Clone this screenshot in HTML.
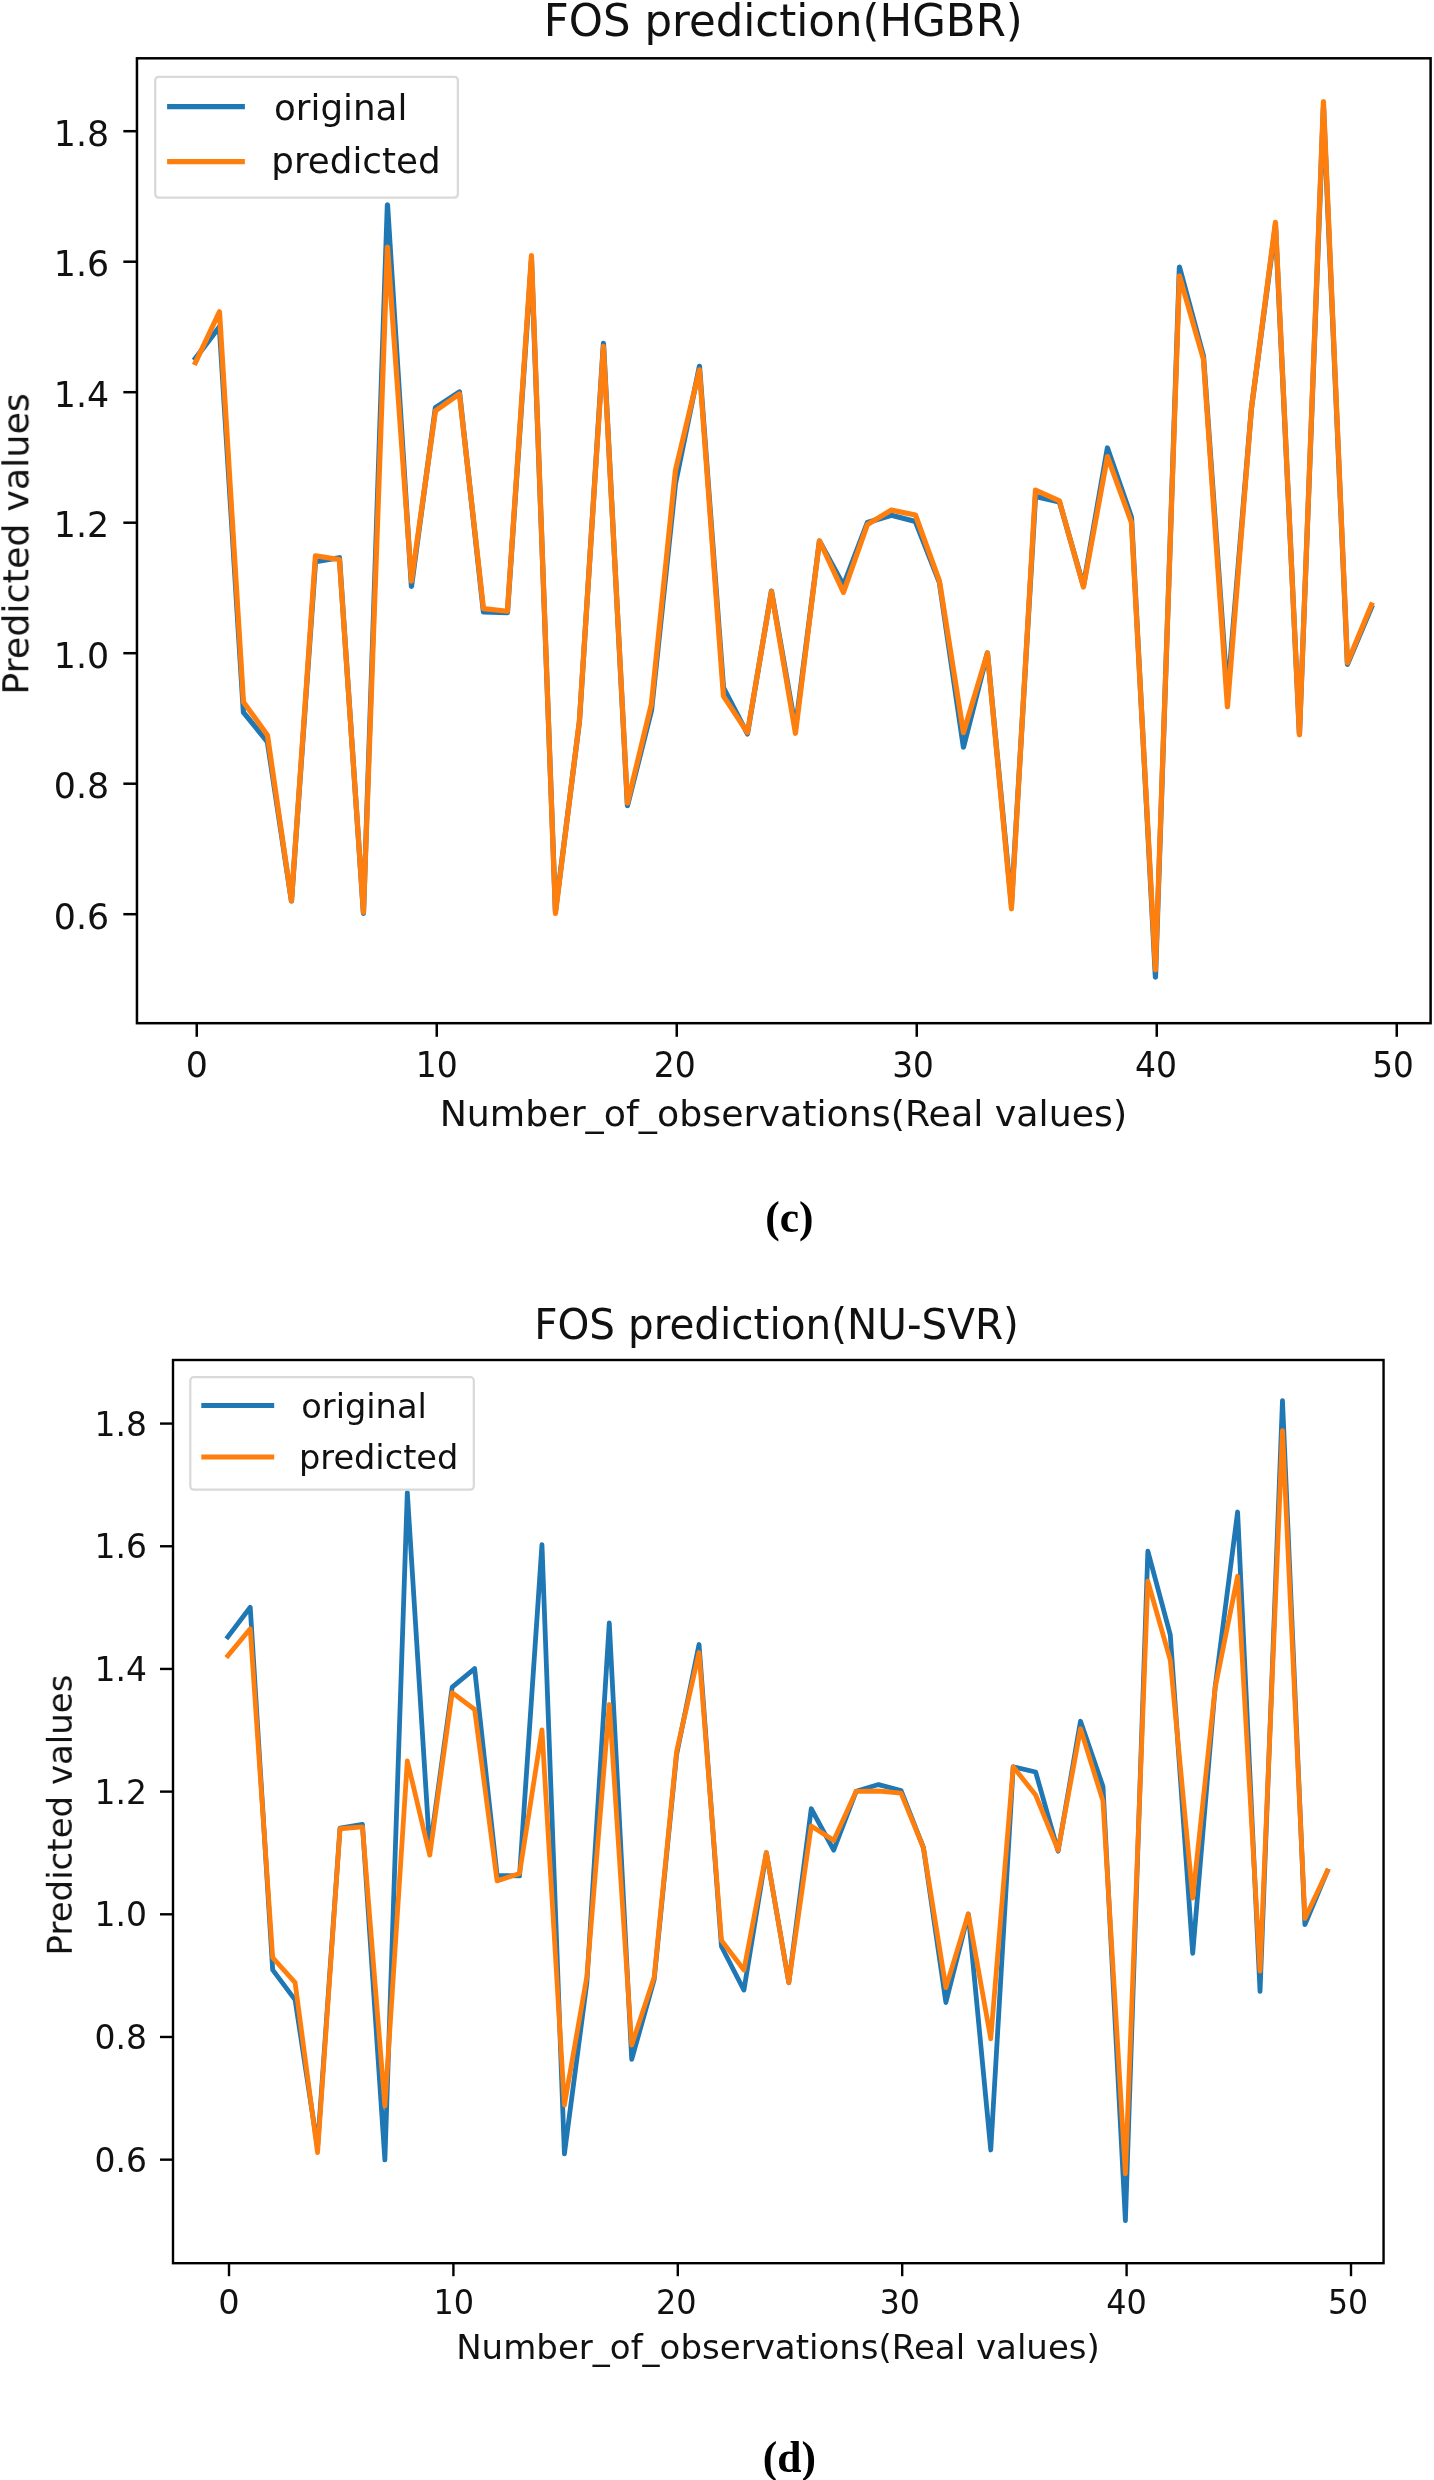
<!DOCTYPE html>
<html lang="en"><head><meta charset="utf-8"><title>FOS prediction</title>
<style>
html,body{margin:0;padding:0;background:#fff;}
body{width:1434px;height:2480px;overflow:hidden;}
svg{display:block;}
</style></head><body>
<svg width="1434" height="2480" viewBox="0 0 1434 2480" font-family="'DejaVu Sans', 'Liberation Sans', sans-serif">
<defs><filter id="fl" x="0" y="0" width="1434" height="2480" filterUnits="userSpaceOnUse" color-interpolation-filters="sRGB"><feGaussianBlur stdDeviation="0.60"/></filter><filter id="fa" x="0" y="0" width="1434" height="2480" filterUnits="userSpaceOnUse" color-interpolation-filters="sRGB"><feGaussianBlur stdDeviation="0.40"/></filter><filter id="ft" x="0" y="0" width="1434" height="2480" filterUnits="userSpaceOnUse" color-interpolation-filters="sRGB"><feGaussianBlur stdDeviation="0.55"/></filter></defs>
<rect width="1434" height="2480" fill="#fff"/>
<g>
<g id="chart1"><g filter="url(#fl)" fill="none" stroke-linejoin="round" stroke-linecap="square" stroke-width="5.20">
<polyline stroke="#1f77b4" points="195.45,358.33 219.45,326.75 243.45,712.38 267.45,741.74 291.45,900.95 315.45,561.65 339.45,557.74 363.45,913.35 387.45,204.73 411.45,586.44 435.45,407.66 459.45,392.00 483.45,611.89 507.45,612.54 531.45,260.19 555.45,911.39 579.45,721.51 603.45,343.45 627.45,805.68 651.45,710.42 675.45,483.35 699.45,366.36 723.45,687.58 747.45,733.91 771.45,591.01 795.45,728.04 819.45,541.03 843.45,585.14 867.45,522.50 891.45,515.32 915.45,521.59 939.45,582.53 963.45,747.16 987.45,653.00 1011.45,904.02 1035.45,496.40 1059.45,501.95 1083.45,585.79 1107.45,447.98 1131.45,517.28 1155.45,977.16 1179.45,267.11 1203.45,356.11 1227.45,694.89 1251.45,408.31 1275.45,225.42 1299.45,733.91 1323.45,106.86 1347.45,664.35 1371.45,607.32"/>
<polyline stroke="#ff7f0e" points="195.45,362.64 219.45,311.74 243.45,701.94 267.45,735.22 291.45,900.95 315.45,555.78 339.45,559.69 363.45,912.30 387.45,247.14 411.45,581.22 435.45,410.92 459.45,393.96 483.45,608.63 507.45,611.24 531.45,255.63 555.45,913.35 579.45,720.21 603.45,346.33 627.45,803.08 651.45,703.89 675.45,470.30 699.45,369.82 723.45,696.06 747.45,732.61 771.45,591.66 795.45,733.26 819.45,540.77 843.45,592.32 867.45,524.46 891.45,510.10 915.45,515.00 939.45,581.22 963.45,732.61 987.45,653.00 1011.45,908.78 1035.45,490.20 1059.45,500.97 1083.45,587.10 1107.45,456.60 1131.45,522.50 1155.45,969.79 1179.45,275.86 1203.45,359.38 1227.45,706.77 1251.45,408.31 1275.45,222.35 1299.45,734.82 1323.45,101.64 1347.45,662.79 1371.45,604.98"/>
</g>
<g filter="url(#fa)">
<g stroke="#000" stroke-width="2.50">
<line x1="196.75" y1="1023.20" x2="196.75" y2="1036.80"/>
<line x1="436.75" y1="1023.20" x2="436.75" y2="1036.80"/>
<line x1="676.75" y1="1023.20" x2="676.75" y2="1036.80"/>
<line x1="916.75" y1="1023.20" x2="916.75" y2="1036.80"/>
<line x1="1156.75" y1="1023.20" x2="1156.75" y2="1036.80"/>
<line x1="1396.75" y1="1023.20" x2="1396.75" y2="1036.80"/>
<line x1="123.35" y1="914.20" x2="136.95" y2="914.20"/>
<line x1="123.35" y1="783.70" x2="136.95" y2="783.70"/>
<line x1="123.35" y1="653.20" x2="136.95" y2="653.20"/>
<line x1="123.35" y1="522.70" x2="136.95" y2="522.70"/>
<line x1="123.35" y1="392.20" x2="136.95" y2="392.20"/>
<line x1="123.35" y1="261.70" x2="136.95" y2="261.70"/>
<line x1="123.35" y1="131.20" x2="136.95" y2="131.20"/>
</g>
<rect x="136.95" y="58.30" width="1293.65" height="964.90" fill="none" stroke="#000" stroke-width="2.50"/>
</g>
<g filter="url(#ft)" fill="#111">
<text transform="translate(196.75,1076.60)" font-size="34.80" text-anchor="middle">0</text>
<text transform="translate(436.75,1076.60)" font-size="34.80" text-anchor="middle" textLength="42.00" lengthAdjust="spacingAndGlyphs">10</text>
<text transform="translate(674.75,1076.60)" font-size="34.80" text-anchor="middle" textLength="42.00" lengthAdjust="spacingAndGlyphs">20</text>
<text transform="translate(912.95,1076.60)" font-size="34.80" text-anchor="middle" textLength="41.60" lengthAdjust="spacingAndGlyphs">30</text>
<text transform="translate(1155.95,1076.60)" font-size="34.80" text-anchor="middle" textLength="42.00" lengthAdjust="spacingAndGlyphs">40</text>
<text transform="translate(1393.05,1076.60)" font-size="34.80" text-anchor="middle" textLength="41.60" lengthAdjust="spacingAndGlyphs">50</text>
<text transform="translate(109.20,928.90)" font-size="34.80" text-anchor="end">0.6</text>
<text transform="translate(109.20,798.40)" font-size="34.80" text-anchor="end">0.8</text>
<text transform="translate(109.20,667.90)" font-size="34.80" text-anchor="end">1.0</text>
<text transform="translate(109.20,537.40)" font-size="34.80" text-anchor="end">1.2</text>
<text transform="translate(109.20,406.90)" font-size="34.80" text-anchor="end">1.4</text>
<text transform="translate(109.20,276.40)" font-size="34.80" text-anchor="end">1.6</text>
<text transform="translate(109.20,145.90)" font-size="34.80" text-anchor="end">1.8</text>
<text transform="translate(783.40,1126.30)" font-size="35.50" text-anchor="middle" textLength="687.50" lengthAdjust="spacingAndGlyphs">Number_of_observations(Real values)</text>
<text transform="translate(28.30,543.90) rotate(-90)" font-size="35.90" text-anchor="middle" textLength="301.70" lengthAdjust="spacingAndGlyphs">Predicted values</text>
<text transform="translate(783.30,35.50) scale(1,1.0450)" font-size="43.00" text-anchor="middle" textLength="479.00" lengthAdjust="spacingAndGlyphs">FOS prediction(HGBR)</text>
</g>
<rect filter="url(#ft)" x="155.20" y="76.80" width="302.70" height="120.80" rx="3.5" fill="#fff" fill-opacity="0.8" stroke="#d9d9d9" stroke-width="2.30"/>
<g filter="url(#fl)" stroke-width="5.20" stroke-linecap="square">
<line x1="169.70" y1="106.60" x2="242.30" y2="106.60" stroke="#1f77b4"/>
<line x1="169.70" y1="161.60" x2="242.30" y2="161.60" stroke="#ff7f0e"/>
</g>
<g filter="url(#ft)" fill="#111">
<text transform="translate(274.00,120.00)" font-size="35.70">original</text>
<text transform="translate(271.30,173.30)" font-size="35.70">predicted</text>
</g></g>
<g id="chart2"><g filter="url(#fl)" fill="none" stroke-linejoin="round" stroke-linecap="square" stroke-width="4.80">
<polyline stroke="#1f77b4" points="227.80,1636.99 250.24,1607.30 272.68,1969.82 295.12,1999.88 317.56,2147.09 340.00,1828.12 362.44,1824.44 384.88,2159.97 407.32,1492.59 429.76,1850.21 452.20,1687.04 474.64,1668.64 497.08,1875.36 519.52,1875.97 541.96,1544.73 564.40,2153.84 586.84,1982.70 609.28,1623.00 631.72,2059.38 654.16,1979.63 676.60,1754.52 699.04,1644.53 721.48,1946.51 743.92,1990.06 766.36,1852.66 788.80,1982.70 811.24,1808.74 833.68,1850.21 856.12,1791.32 878.56,1784.57 901.00,1790.46 923.44,1847.75 945.88,2002.51 968.32,1914.00 990.76,2149.97 1013.20,1766.78 1035.64,1772.00 1058.08,1851.19 1080.52,1721.27 1102.96,1786.41 1125.40,2220.58 1147.84,1551.24 1170.28,1634.90 1192.72,1953.38 1215.16,1687.04 1237.60,1512.04 1260.04,1991.29 1282.48,1400.58 1304.92,1924.67 1327.36,1871.06"/>
<polyline stroke="#ff7f0e" points="227.80,1655.76 250.24,1628.77 272.68,1957.55 295.12,1982.70 317.56,2152.61 340.00,1828.74 362.44,1826.90 384.88,2105.99 407.32,1760.96 429.76,1855.11 452.20,1692.56 474.64,1709.49 497.08,1880.88 519.52,1873.52 541.96,1729.98 564.40,2105.01 586.84,1976.57 609.28,1704.52 631.72,2045.02 654.16,1977.18 676.60,1751.45 699.04,1652.51 721.48,1940.38 743.92,1970.00 766.36,1852.66 788.80,1982.70 811.24,1825.98 833.68,1840.39 856.12,1791.32 878.56,1791.01 901.00,1793.16 923.44,1847.75 945.88,1987.61 968.32,1914.00 990.76,2038.70 1013.20,1766.78 1035.64,1795.00 1058.08,1850.21 1080.52,1728.75 1102.96,1801.13 1125.40,2173.77 1147.84,1581.23 1170.28,1660.05 1192.72,1898.05 1215.16,1687.66 1237.60,1576.26 1260.04,1971.05 1282.48,1430.64 1304.92,1918.42 1327.36,1871.06"/>
</g>
<g filter="url(#fa)">
<g stroke="#000" stroke-width="2.40">
<line x1="229.00" y1="2263.20" x2="229.00" y2="2276.20"/>
<line x1="453.40" y1="2263.20" x2="453.40" y2="2276.20"/>
<line x1="677.80" y1="2263.20" x2="677.80" y2="2276.20"/>
<line x1="902.20" y1="2263.20" x2="902.20" y2="2276.20"/>
<line x1="1126.60" y1="2263.20" x2="1126.60" y2="2276.20"/>
<line x1="1351.00" y1="2263.20" x2="1351.00" y2="2276.20"/>
<line x1="160.00" y1="2159.66" x2="173.00" y2="2159.66"/>
<line x1="160.00" y1="2036.98" x2="173.00" y2="2036.98"/>
<line x1="160.00" y1="1914.30" x2="173.00" y2="1914.30"/>
<line x1="160.00" y1="1791.62" x2="173.00" y2="1791.62"/>
<line x1="160.00" y1="1668.94" x2="173.00" y2="1668.94"/>
<line x1="160.00" y1="1546.26" x2="173.00" y2="1546.26"/>
<line x1="160.00" y1="1423.58" x2="173.00" y2="1423.58"/>
</g>
<rect x="173.00" y="1360.00" width="1210.55" height="903.20" fill="none" stroke="#000" stroke-width="2.40"/>
</g>
<g filter="url(#ft)" fill="#111">
<text transform="translate(229.00,2314.00)" font-size="33.60" text-anchor="middle">0</text>
<text transform="translate(453.70,2314.00)" font-size="33.60" text-anchor="middle" textLength="40.60" lengthAdjust="spacingAndGlyphs">10</text>
<text transform="translate(676.30,2314.00)" font-size="33.60" text-anchor="middle" textLength="40.60" lengthAdjust="spacingAndGlyphs">20</text>
<text transform="translate(899.80,2314.00)" font-size="33.60" text-anchor="middle" textLength="40.20" lengthAdjust="spacingAndGlyphs">30</text>
<text transform="translate(1126.60,2314.00)" font-size="33.60" text-anchor="middle" textLength="40.60" lengthAdjust="spacingAndGlyphs">40</text>
<text transform="translate(1348.00,2314.00)" font-size="33.60" text-anchor="middle" textLength="40.20" lengthAdjust="spacingAndGlyphs">50</text>
<text transform="translate(146.90,2171.66)" font-size="33.60" text-anchor="end" textLength="52.40" lengthAdjust="spacingAndGlyphs">0.6</text>
<text transform="translate(146.90,2048.98)" font-size="33.60" text-anchor="end" textLength="52.40" lengthAdjust="spacingAndGlyphs">0.8</text>
<text transform="translate(146.90,1926.30)" font-size="33.60" text-anchor="end" textLength="52.40" lengthAdjust="spacingAndGlyphs">1.0</text>
<text transform="translate(146.90,1803.62)" font-size="33.60" text-anchor="end" textLength="52.40" lengthAdjust="spacingAndGlyphs">1.2</text>
<text transform="translate(146.90,1680.94)" font-size="33.60" text-anchor="end" textLength="52.40" lengthAdjust="spacingAndGlyphs">1.4</text>
<text transform="translate(146.90,1558.26)" font-size="33.60" text-anchor="end" textLength="52.40" lengthAdjust="spacingAndGlyphs">1.6</text>
<text transform="translate(146.90,1435.58)" font-size="33.60" text-anchor="end" textLength="52.40" lengthAdjust="spacingAndGlyphs">1.8</text>
<text transform="translate(778.00,2359.40)" font-size="33.60" text-anchor="middle" textLength="643.70" lengthAdjust="spacingAndGlyphs">Number_of_observations(Real values)</text>
<text transform="translate(71.80,1815.00) rotate(-90)" font-size="33.60" text-anchor="middle" textLength="280.90" lengthAdjust="spacingAndGlyphs">Predicted values</text>
<text transform="translate(776.50,1339.40) scale(1,1.0600)" font-size="40.30" text-anchor="middle" textLength="484.70" lengthAdjust="spacingAndGlyphs">FOS prediction(NU-SVR)</text>
</g>
<rect filter="url(#ft)" x="190.30" y="1377.20" width="283.50" height="112.40" rx="3.3" fill="#fff" fill-opacity="0.8" stroke="#d9d9d9" stroke-width="2.20"/>
<g filter="url(#fl)" stroke-width="4.80" stroke-linecap="square">
<line x1="203.70" y1="1405.50" x2="271.80" y2="1405.50" stroke="#1f77b4"/>
<line x1="203.70" y1="1457.00" x2="271.80" y2="1457.00" stroke="#ff7f0e"/>
</g>
<g filter="url(#ft)" fill="#111">
<text transform="translate(301.30,1417.50)" font-size="33.60">original</text>
<text transform="translate(299.00,1468.50)" font-size="33.60">predicted</text>
</g></g>
<g filter="url(#ft)" font-family="'Liberation Serif', 'DejaVu Serif', serif" font-weight="bold" font-size="43.5" fill="#000" text-anchor="middle">
<text x="789.3" y="1231.7">(c)</text>
<text x="789.3" y="2472.3">(d)</text>
</g>
</g>
</svg>
</body></html>
